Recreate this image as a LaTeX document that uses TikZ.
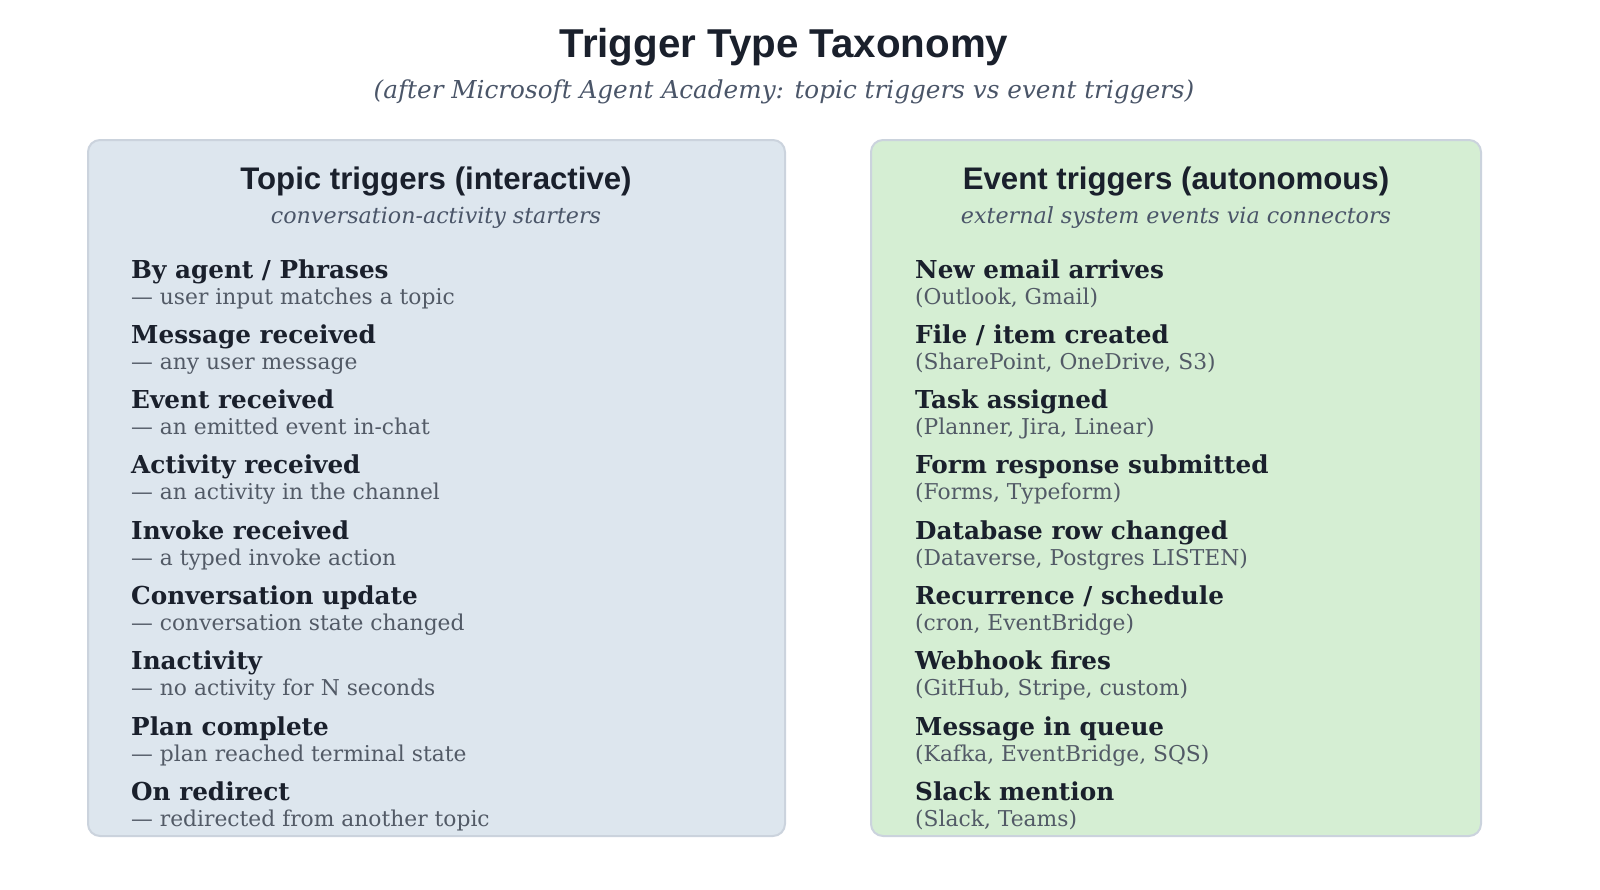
\documentclass[tikz,border=0pt]{standalone}
\usepackage{fontspec}
\setmainfont{DejaVu Serif}
\newfontfamily\hsans{Liberation Sans}
\definecolor{ink}{HTML}{1A202C}\definecolor{gr}{HTML}{525A66}\definecolor{sg}{HTML}{4A5568}
\begin{document}
\begin{tikzpicture}[x=1pt,y=-1pt,
  box/.style={line width=2pt,rounded corners=12pt},
  ttl/.style={anchor=base west,text=ink,font=\fontsize{24.7}{28}\selectfont\bfseries,inner sep=0},
  dsc/.style={anchor=base west,text=gr,font=\fontsize{21.8}{24}\selectfont,inner sep=0},
  hdr/.style={font=\hsans\fontsize{31.2}{34}\selectfont\bfseries,text=ink,inner sep=0},
  sub/.style={font=\itshape\fontsize{22.2}{26}\selectfont,text=sg,inner sep=0}]
\definecolor{lb}{HTML}{DDE6EE}\definecolor{lg}{HTML}{D5EED3}\definecolor{bd}{HTML}{CBD3DD}
\useasboundingbox (0,0) rectangle (1600,889);
\node[font=\hsans\fontsize{40.3}{44}\selectfont\bfseries,text=ink,inner sep=0] (title) at (784,47) {Trigger Type Taxonomy};
\node[sub,font=\itshape\fontsize{24.7}{28}\selectfont] (subtitle) at (784,92) {(after Microsoft Agent Academy: topic triggers vs event triggers)};
\draw[box,draw=bd,fill=lb] (88,140) rectangle (785,836);
\draw[box,draw=bd,fill=lg] (871,140) rectangle (1481,836);
\node[hdr] (lh) at (436,181) {Topic triggers (interactive)};
\node[sub] (ls) at (436,218) {conversation-activity starters};
\node[hdr] (rh) at (1176,181) {Event triggers (autonomous)};
\node[sub] (rs) at (1176,218) {external system events via connectors};
\foreach \i/\t/\d in {0/By agent \slash{} Phrases/— user input matches a topic,
 1/Message received/— any user message,
 2/Event received/— an emitted event in-chat,
 3/Activity received/— an activity in the channel,
 4/Invoke received/— a typed invoke action,
 5/Conversation update/— conversation state changed,
 6/Inactivity/— no activity for N seconds,
 7/Plan complete/— plan reached terminal state,
 8/On redirect/— redirected from another topic}{
 \node[ttl] (lt\i) at (131,278+65.3*\i) {\t};
 \node[dsc] (ld\i) at (131,304+65.3*\i) {\d};}
\foreach \i/\t/\d in {0/New email arrives/(Outlook{,} Gmail),
 1/File \slash{} item created/(SharePoint{,} OneDrive{,} S3),
 2/Task assigned/(Planner{,} Jira{,} Linear),
 3/Form response submitted/(Forms{,} Typeform),
 4/Database row changed/(Dataverse{,} Postgres LISTEN),
 5/Recurrence \slash{} schedule/(cron{,} EventBridge),
 6/Webhook fires/(GitHub{,} Stripe{,} custom),
 7/Message in queue/(Kafka{,} EventBridge{,} SQS),
 8/Slack mention/(Slack{,} Teams)}{
 \node[ttl] (rt\i) at (915,278+65.3*\i) {\t};
 \node[dsc] (rd\i) at (915,304+65.3*\i) {\d};}
\end{tikzpicture}
\end{document}
